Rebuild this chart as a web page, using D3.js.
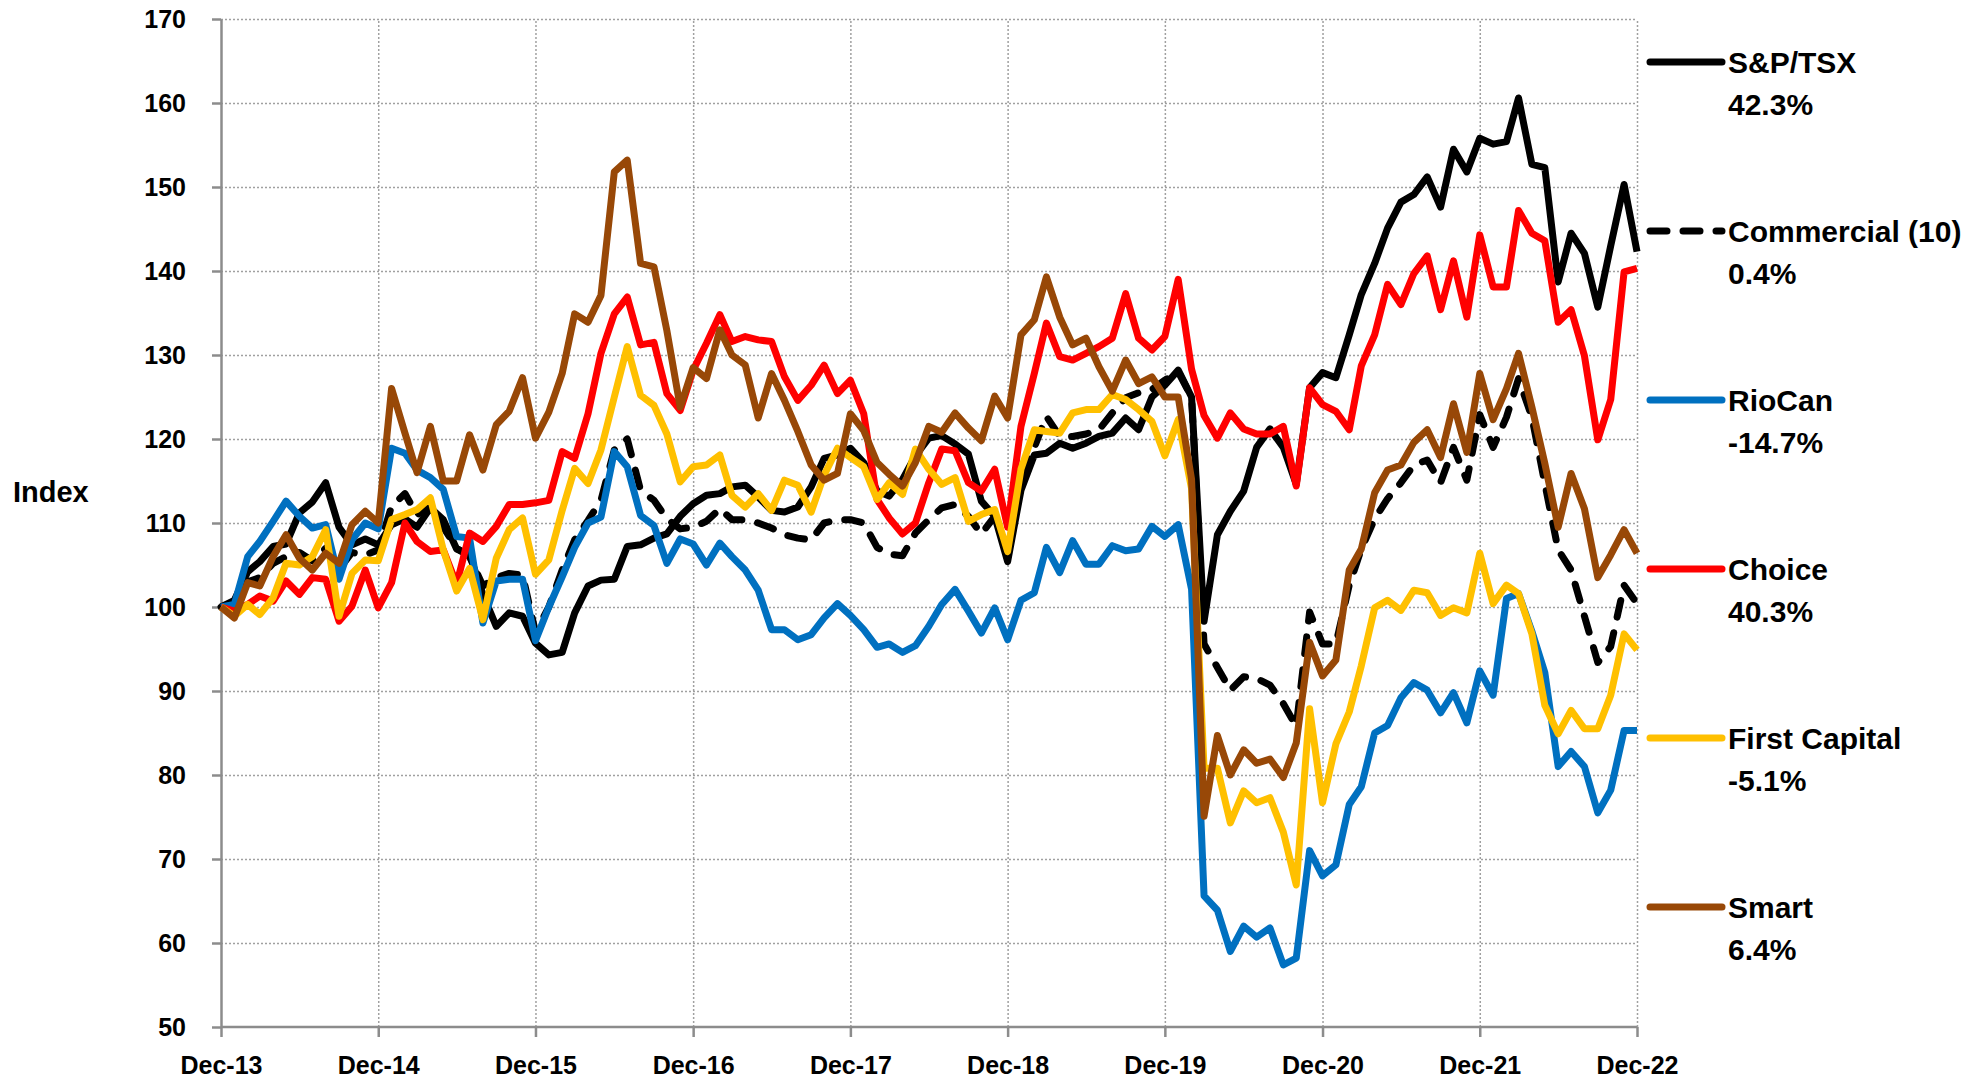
<!DOCTYPE html>
<html>
<head>
<meta charset="utf-8">
<script src="https://cdnjs.cloudflare.com/ajax/libs/d3/7.8.5/d3.min.js"></script>
<style>
  body { margin: 0; background: #fff; }
  text { font-family: "Liberation Sans", Arial, sans-serif; font-weight: bold; fill: #000; }
  .grid line { stroke: #a0a0a0; stroke-width: 1.5; stroke-dasharray: 2,2; }
  .grid .domain { display: none; }
  .axis .domain, .axis line { stroke: #8c8c8c; stroke-width: 2.5; }
</style>
</head>
<body>
<svg class="chart"></svg>
<script>

// Monthly index values, Dec-13 = 100.
var spTsx = [100, 100.8, 104.2, 105.4, 107.2, 107.5, 111.2, 112.5, 114.8, 109.5, 107.4, 108.1, 107.4,
  109.8, 110.5, 109.5, 111.8, 110.4, 106.9, 106.2, 101.5, 97.7, 99.3, 98.9, 95.7,
  94.3, 94.6, 99.3, 102.5, 103.2, 103.3, 107.2, 107.4, 108.2, 108.7, 110.8, 112.3,
  113.3, 113.5, 114.3, 114.5, 113.1, 111.5, 111.3, 111.9, 114.3, 117.7, 118.1, 118.9,
  117.2, 113.8, 113.2, 115.2, 118, 120.1, 120.4, 119.4, 118.2, 112.6, 110.8, 105.4,
  113.9, 118.1, 118.3, 119.5, 118.9, 119.5, 120.3, 120.7, 122.5, 121.1, 125, 126.4,
  128.2, 125, 98.3, 108.6, 111.4, 113.8, 119, 121.2, 119, 114.6, 126.1, 127.9,
  127.3, 132.4, 137.2, 140.9, 145.1, 148.2, 149.1, 151.2, 147.6, 154.5, 151.8, 155.8,
  155.1, 155.4, 160.6, 152.7, 152.3, 138.7, 144.5, 142.1, 135.7, 143, 150.3, 142.3];

var commercial = [100, 100.5, 103, 103.5, 105.2, 106, 106.5, 105.5, 107, 104.5, 106.5, 106.2, 106.8,
  112, 113.5, 111, 112, 109.5, 107, 106, 102.5, 103.5, 104, 103.8, 97,
  100, 104.4, 108, 110.3, 112.7, 118.7, 120, 113.9, 112.7, 110.5, 109.3, 109.5,
  110.2, 111.7, 110.4, 110.4, 110, 109.4, 108.6, 108.2, 108, 110, 110.4, 110.4,
  110, 107.1, 106.3, 106.1, 108.8, 110.4, 111.8, 112.2, 110.8, 108.7, 110.8, 106.5,
  114.8, 119, 122.7, 120.3, 120.3, 120.6, 121.1, 123.1, 124.9, 125.5, 125.9, 127,
  128, 125, 95.6, 92.8, 90.1, 91.7, 91.5, 90.7, 88.5, 85.8, 99.4, 95.6,
  95.6, 102.6, 106.9, 110.5, 112.9, 114.8, 116.9, 117.5, 114.8, 119, 115.1, 122.9,
  119, 122.6, 127.2, 122.6, 114.7, 106.8, 104.4, 98.9, 93.4, 95.3, 102.6, 100.4];

var rioCan = [100, 100.3, 106, 107.8, 110.2, 112.6, 110.8, 109.4, 109.8, 103.3, 108, 110, 109.3,
  118.9, 118.3, 116.3, 115.4, 114, 108.4, 108.2, 98.1, 103.1, 103.3, 103.3, 96,
  100, 103.6, 107.1, 110, 110.7, 118.5, 116.7, 110.9, 109.7, 105.2, 108.1, 107.5,
  105, 107.6, 106, 104.4, 102, 97.3, 97.3, 96.1, 96.7, 98.7, 100.4, 99,
  97.3, 95.2, 95.6, 94.6, 95.4, 97.7, 100.3, 102.1, 99.5, 96.9, 99.9, 96.1,
  100.8, 101.7, 107.1, 104.1, 107.9, 105.1, 105.1, 107.3, 106.7, 106.9, 109.6, 108.4,
  109.8, 102.1, 65.6, 63.9, 59, 62, 60.7, 61.8, 57.4, 58.2, 71, 68,
  69.3, 76.5, 78.6, 85, 85.9, 89.2, 91, 90.1, 87.4, 89.8, 86.2, 92.4,
  89.5, 101, 101.6, 97.1, 92.2, 81, 82.8, 81, 75.5, 78.2, 85.3, 85.3];

var choice = [100, 99.5, 100.3, 101.3, 100.7, 103.1, 101.5, 103.5, 103.3, 98.3, 100.1, 104.4, 99.9,
  102.9, 110, 107.8, 106.6, 106.8, 102.7, 108.8, 107.8, 109.6, 112.2, 112.2, 112.4,
  112.7, 118.5, 117.7, 123, 130.2, 134.9, 136.9, 131.2, 131.5, 125.4, 123.4, 128.2,
  131.4, 134.8, 131.6, 132.2, 131.8, 131.6, 127.4, 124.6, 126.4, 128.8, 125.4, 127,
  123, 112.8, 110.6, 108.7, 110, 114.8, 118.8, 118.6, 114.8, 113.8, 116.4, 109.5,
  121.5, 127.8, 133.8, 129.8, 129.4, 130.2, 131, 132, 137.3, 132, 130.6, 132.2,
  139, 128.3, 122.8, 120.1, 123.1, 121.2, 120.6, 120.6, 121.5, 114.4, 126.1, 124.1,
  123.3, 121.1, 128.7, 132.4, 138.4, 136, 139.7, 141.8, 135.4, 141.2, 134.5, 144.3,
  138.1, 138.1, 147.2, 144.5, 143.6, 133.9, 135.4, 129.9, 119.9, 124.7, 139.9, 140.3];

var firstCapital = [100, 98.9, 100.3, 99.1, 101.1, 105.2, 105, 106, 109.2, 98.9, 104, 105.6, 105.5,
  110.4, 111, 111.6, 113, 106.8, 101.9, 104.6, 98.5, 105.8, 109.2, 110.6, 103.9,
  105.6, 111.5, 116.5, 114.7, 118.7, 125, 131, 125.2, 124, 120.6, 114.9, 116.7,
  116.9, 118.1, 113.3, 111.9, 113.5, 111.5, 115.1, 114.5, 111.3, 115.7, 118.9, 117.8,
  116.7, 112.8, 114.8, 113.4, 118.8, 116.4, 114.6, 115.4, 110.2, 111, 111.6, 106.6,
  116.4, 121.1, 120.9, 120.7, 123.1, 123.5, 123.5, 125.3, 124.7, 123.5, 122.1, 118,
  122.3, 114.1, 80.8, 80.8, 74.3, 78.1, 76.7, 77.3, 73.2, 66.9, 87.9, 76.7,
  83.7, 87.5, 93, 99.9, 100.8, 99.6, 102, 101.7, 99, 99.9, 99.3, 106.4,
  100.4, 102.6, 101.6, 96.8, 88.3, 84.9, 87.7, 85.5, 85.5, 89.5, 96.8, 94.9];

var smart = [100, 98.7, 102.9, 102.5, 106, 108.6, 105.8, 104.4, 106.4, 105.2, 109.8, 111.4, 110,
  126, 120.7, 116, 121.5, 115, 115, 120.5, 116.3, 121.7, 123.3, 127.3, 120.1,
  123.2, 127.8, 134.9, 133.9, 137.1, 151.8, 153.2, 140.9, 140.5, 132.9, 123.8, 128.5,
  127.2, 133, 130, 128.8, 122.5, 127.8, 124.6, 120.9, 116.9, 115.1, 115.9, 123,
  121, 117.2, 115.8, 114.4, 117.2, 121.5, 120.8, 123.1, 121.3, 119.8, 125.1, 122.5,
  132.4, 134.2, 139.3, 134.5, 131.2, 132, 128.6, 125.7, 129.4, 126.6, 127.4, 125,
  125, 115.2, 75.1, 84.7, 80, 83, 81.4, 81.9, 79.7, 83.8, 95.8, 91.8,
  93.7, 104.4, 106.9, 113.6, 116.3, 116.9, 119.6, 121.1, 117.8, 124.2, 118.4, 127.8,
  122.3, 126, 130.2, 123.8, 117.1, 109.5, 115.9, 111.7, 103.5, 106.2, 109.2, 106.4];

var seriesNames = ["S&P/TSX", "Commercial (10)", "RioCan", "Choice", "First Capital", "Smart"];
var seriesValues = [spTsx, commercial, rioCan, choice, firstCapital, smart];
var seriesColors = ["#000000", "#000000", "#0070C0", "#FF0000", "#FFC000", "#984807"];
var seriesDashed = [false, true, false, false, false, false];

var yTicks = [50, 60, 70, 80, 90, 100, 110, 120, 130, 140, 150, 160, 170];
var yearTicks = [2013, 2014, 2015, 2016, 2017, 2018, 2019, 2020, 2021, 2022];

// Months from Dec-13 to Dec-22.
var months = d3.range(spTsx.length).map(function(i) { return new Date(2013, 11 + i, 1); });

function drawChart() {

  var svgWidth = 1986,
      svgHeight = 1081,
      plot = {left: 221, right: 1637, top: 19, bottom: 1027};

  var svg = d3.select(".chart")
      .attr("width", svgWidth)
      .attr("height", svgHeight);

  svg.append("rect")
      .attr("width", svgWidth)
      .attr("height", svgHeight)
      .attr("fill", "#fff");

  x = d3.scaleTime()
      .domain([months[0], months[months.length - 1]])
      .range([plot.left, plot.right]);

  y = d3.scaleLinear()
      .domain([50, 170])
      .range([plot.bottom, plot.top]);

  var decTicks = yearTicks.map(function(yr) { return new Date(yr, 11, 1); });

  drawGrid(svg, plot, decTicks);
  drawAxes(svg, plot, decTicks);
  drawLines(svg);
  drawLegend(svg);

  // Axis title.
  svg.append("text")
      .attr("x", 13)
      .attr("y", 502)
      .style("font-size", "29px")
      .text("Index");
}

/*
* Dotted gridlines for every y tick and every December.
*/
function drawGrid(svg, plot, decTicks) {

  svg.append("g")
      .attr("class", "grid")
      .attr("transform", "translate(" + plot.left + ",0)")
      .call(d3.axisLeft(y)
        .tickValues(yTicks.slice(1))
        .tickSize(-(plot.right - plot.left))
        .tickFormat(""));

  svg.append("g")
      .attr("class", "grid")
      .attr("transform", "translate(0," + plot.bottom + ")")
      .call(d3.axisBottom(x)
        .tickValues(decTicks.slice(1))
        .tickSize(-(plot.bottom - plot.top))
        .tickFormat(""));
}

/*
* Left and bottom axes with labels.
*/
function drawAxes(svg, plot, decTicks) {

  var yAxis = svg.append("g")
      .attr("class", "axis")
      .attr("transform", "translate(" + plot.left + ",0)")
      .call(d3.axisLeft(y)
        .tickValues(yTicks)
        .tickSize(9)
        .tickSizeOuter(0)
        .tickPadding(26));

  yAxis.selectAll("text")
      .style("font-size", "25px")
      .style("font-family", "'Liberation Sans', Arial, sans-serif");

  var xAxis = svg.append("g")
      .attr("class", "axis")
      .attr("transform", "translate(0," + plot.bottom + ")")
      .call(d3.axisBottom(x)
        .tickValues(decTicks)
        .tickSize(10)
        .tickSizeOuter(0)
        .tickPadding(19)
        .tickFormat(d3.timeFormat("%b-%y")));

  xAxis.selectAll("text")
      .style("font-size", "25px")
      .style("font-family", "'Liberation Sans', Arial, sans-serif");

  // Excel draws no right axis line, only the Dec-22 gridline.
  xAxis.select(".domain").attr("d", "M" + plot.left + ",0H" + plot.right);
}

/*
* One path per series.
*/
function drawLines(svg) {

  var line = d3.line()
      .x(function(d, i) { return x(months[i]); })
      .y(function(d) { return y(d); });

  svg.append("g")
      .attr("class", "lines")
    .selectAll("path")
      .data(seriesValues)
      .enter()
    .append("path")
      .attr("d", line)
      .attr("fill", "none")
      .attr("stroke", function(d, i) { return seriesColors[i]; })
      .attr("stroke-width", 7)
      .attr("stroke-linejoin", "round")
      .attr("stroke-linecap", function(d, i) { return seriesDashed[i] ? "round" : "butt"; })
      .attr("stroke-dasharray", function(d, i) { return seriesDashed[i] ? "17,16" : null; });
}

/*
* Legend on the right: name and total change over the period.
*/
function drawLegend(svg) {

  var item = svg.append("g")
      .attr("class", "legend")
    .selectAll("g")
      .data(seriesNames)
      .enter()
    .append("g")
      .attr("transform", function(d, i) { return "translate(1650," + (62 + i * 169) + ")"; });

  item.append("line")
      .attr("x1", 0)
      .attr("x2", 72)
      .attr("stroke", function(d, i) { return seriesColors[i]; })
      .attr("stroke-width", 7)
      .attr("stroke-linecap", "round")
      .attr("stroke-dasharray", function(d, i) { return seriesDashed[i] ? "17,16" : null; });

  item.append("text")
      .attr("x", 78)
      .attr("y", 11)
      .style("font-size", "30px")
      .text(function(d) { return d; });

  // Total change, written with a plain hyphen like the original.
  item.append("text")
      .attr("x", 78)
      .attr("y", 53)
      .style("font-size", "30px")
      .text(function(d, i) {
        var v = seriesValues[i];
        return ((v[v.length - 1] / v[0] - 1) * 100).toFixed(1) + "%";
      });
}

drawChart();
</script>
</body>
</html>
